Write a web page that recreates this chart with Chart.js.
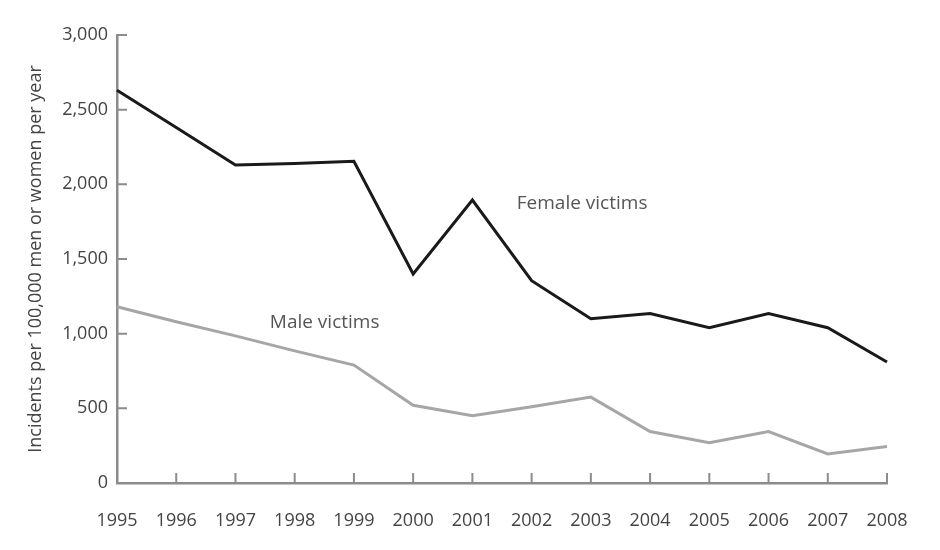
<!DOCTYPE html>
<html lang="en">
<head>
    <meta charset="UTF-8">
    <title>Incidents per 100,000</title>
    <script src="https://cdn.jsdelivr.net/npm/chart.js"></script>
    <style>
        body { margin: 0; background: #fff; }
    </style>
</head>
<body>
<canvas id="victimsChart" width="940" height="550"></canvas>
<script>
    // values
    const years = ['1995', '1996', '1997', '1998', '1999', '2000', '2001',
                   '2002', '2003', '2004', '2005', '2006', '2007', '2008'];
    const femaleVictims = [2630, 2380, 2130, 2140, 2155, 1400, 1895, 1355, 1100, 1135, 1040, 1135, 1040, 810];
    const maleVictims = [1180, 1080, 985, 885, 790, 520, 450, 510, 575, 345, 270, 345, 195, 245];

    const font = "'Open Sans', 'DejaVu Sans', sans-serif";
    const axisGrey = '#8c8c8c';

    // series names written next to the lines, placed in data units
    const seriesLabels = {
        id: 'seriesLabels',
        afterDatasetsDraw(chart) {
            const ctx = chart.ctx;
            const x = chart.scales.x, y = chart.scales.y;
            const items = [
                {text: 'Female victims', at: 6.75, val: 1870},
                {text: 'Male victims', at: 2.58, val: 1075}
            ];
            ctx.save();
            ctx.font = '19px ' + font;
            ctx.fillStyle = '#555';
            ctx.textBaseline = 'middle';
            items.forEach(it => {
                ctx.fillText(it.text, x.getPixelForValue(it.at), y.getPixelForValue(it.val));
            });
            ctx.restore();
        }
    };

    // tick marks pointing into the plot, like the original
    const innerTicks = {
        id: 'innerTicks',
        afterDraw(chart) {
            const ctx = chart.ctx;
            const x = chart.scales.x, y = chart.scales.y;
            const area = chart.chartArea;
            ctx.save();
            ctx.strokeStyle = axisGrey;
            ctx.lineWidth = 2;
            ctx.beginPath();
            y.ticks.forEach(t => {
                const py = y.getPixelForValue(t.value);
                ctx.moveTo(area.left, py);
                ctx.lineTo(area.left + 10, py);
            });
            x.ticks.forEach((t, i) => {
                const px = x.getPixelForTick(i);
                ctx.moveTo(px, area.bottom);
                ctx.lineTo(px, area.bottom - 10);
            });
            ctx.stroke();
            ctx.restore();
        }
    };

    const ctx = document.getElementById('victimsChart').getContext('2d');
    new Chart(ctx, {
        type: 'line',
        data: {
            labels: years,
            datasets: [{
                label: 'Female victims',
                data: femaleVictims,
                borderColor: '#1a1a1a',
                borderWidth: 3,
                pointRadius: 0,
                tension: 0
            }, {
                label: 'Male victims',
                data: maleVictims,
                borderColor: '#a6a6a6',
                borderWidth: 3,
                pointRadius: 0,
                tension: 0
            }]
        },
        options: {
            responsive: false,
            animation: false,
            layout: {padding: {top: 35, right: 53, left: 25, bottom: 0}},
            plugins: {legend: {display: false}, tooltip: {enabled: false}},
            scales: {
                x: {
                    offset: false,
                    afterFit: s => { s.height = 67; },
                    border: {color: axisGrey, width: 2.5},
                    grid: {drawOnChartArea: false, drawTicks: false},
                    ticks: {color: '#444', font: {family: font, size: 18}, padding: 27, maxRotation: 0}
                },
                y: {
                    min: 0,
                    max: 3000,
                    afterFit: s => { s.width = 92; },
                    border: {color: axisGrey, width: 2.5},
                    grid: {drawOnChartArea: false, drawTicks: false},
                    ticks: {
                        stepSize: 500,
                        color: '#444',
                        font: {family: font, size: 18},
                        padding: 9,
                        callback: v => v.toLocaleString('en-US')
                    },
                    title: {
                        display: true,
                        text: 'Incidents per 100,000 men or women per year',
                        color: '#444',
                        font: {family: font, size: 18},
                        padding: {top: 0, bottom: 0}
                    }
                }
            }
        },
        plugins: [seriesLabels, innerTicks]
    });
</script>
</body>
</html>
